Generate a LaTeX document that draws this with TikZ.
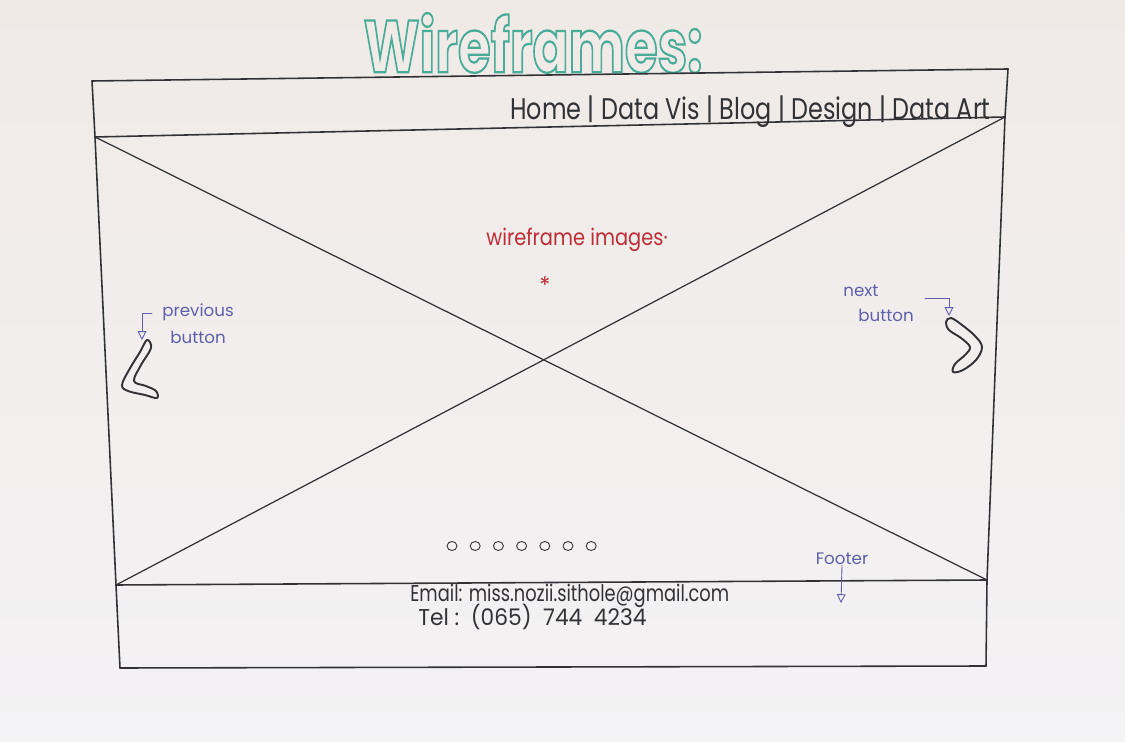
\documentclass[tikz,border=0pt]{standalone}
\usepackage{fontspec}
\setmainfont{Poppins}
\usetikzlibrary{arrows.meta}

\definecolor{paper}{RGB}{243,240,238}
\definecolor{papertop}{RGB}{240,234,231}
\definecolor{paperbot}{RGB}{243,242,244}
\definecolor{ink}{RGB}{50,50,54}
\definecolor{teal}{RGB}{72,172,150}
\definecolor{redink}{RGB}{190,45,55}
\definecolor{blueink}{RGB}{95,95,170}

\newcommand\squeeze[2]{\scalebox{#1}[1]{#2}}
% glyphs stroked only (PDF text render mode 1), for hollow lettering
\newcommand\hollow[1]{\special{pdf:literal direct 1 Tr 1.3 w}#1\special{pdf:literal direct 0 Tr}}

\tikzset{
  pen/.style={draw=ink, line width=0.9pt, line join=round, line cap=round},
  thinpen/.style={draw=blueink, line width=0.5pt, line cap=round},
  navtext/.style={text=ink, font=\fontsize{17}{17}\selectfont, inner sep=0pt},
  contact/.style={text=ink, font=\fontsize{13}{13}\selectfont, inner sep=0pt, anchor=west},
  note/.style={text=blueink, font=\fontsize{9.5}{10}\selectfont, inner sep=0pt, anchor=west},
  rednote/.style={text=redink, font=\fontsize{13}{13}\selectfont, inner sep=0pt},
  dot/.style={draw=ink, line width=0.5pt},
  chevron/.style={draw=ink, line width=1.1pt, line join=round},
  pointer/.style={thinpen, -{Triangle[open, length=5pt, width=5pt]}},
}

\begin{document}
\begin{tikzpicture}[x=0.02cm, y=-0.02cm]
  % sheet of paper
  \shade[top color=papertop, bottom color=paperbot] (0,0) rectangle (1125,742);
  \useasboundingbox (0,0) rectangle (1125,742);

  % heading in hollow bubble letters
  \node[inner sep=0pt, text=teal] (title) at (533,43)
    {\fontsize{42}{42}\selectfont\bfseries\squeeze{0.72}{\hollow{Wireframes:}}};

  % page outline
  \coordinate (tl) at (92,81);
  \coordinate (tr) at (1008,69);
  \coordinate (hl) at (95,137);
  \coordinate (hr) at (1005,117);
  \coordinate (fl) at (116,585);
  \coordinate (fr) at (987,580);
  \coordinate (bl) at (120,668);
  \coordinate (br) at (986,666);

  \draw[pen] (tl) -- (tr);
  \draw[pen] (tl) -- (hl) -- (fl) -- (bl);
  \draw[pen] (tr) -- (hr) -- (fr) -- (br);
  \draw[pen] (bl) -- (br);
  \draw[pen] (hl) -- (hr);
  \draw[pen] (fl) -- (fr);

  % image placeholder cross
  \draw[pen, line width=0.7pt] (hl) -- (fr);
  \draw[pen, line width=0.7pt] (hr) -- (fl);

  % navigation bar
  \node[navtext, anchor=base east] (nav) at (991,120)
    {\squeeze{0.8}{Home | Data Vis | Blog | Design | Data Art}};

  % slide caption
  \node[rednote] (caption) at (577,240) {\squeeze{0.85}{wireframe images·}};
  \node[rednote] (star) at (545,285) {*};

  % previous button
  \node[note] (prevA) at (162,312) {previous};
  \node[note] (prevB) at (170,337) {button};
  \coordinate (prevbar) at (152,313);
  \coordinate (prevtip) at (142,340);
  \draw[pointer] (prevbar) -- (142,313) -- (prevtip);
  \draw[chevron] plot[smooth cycle, tension=0.6] coordinates
    {(147,340) (140,352) (129,370) (122,385) (128,391) (145,395) (157,398)
     (156,391) (146,386) (134,381) (141,365) (151,348)};

  % next button
  \node[note] (nextA) at (843,291) {next};
  \node[note] (nextB) at (858,315) {button};
  \coordinate (nextbar) at (925,298);
  \coordinate (nexttip) at (949,316);
  \draw[pointer] (nextbar) -- (949,298) -- (nexttip);
  \draw[chevron] plot[smooth cycle, tension=0.6] coordinates
    {(946,322) (951,318) (962,325) (975,336) (982,347) (976,360) (963,370)
     (953,372) (955,364) (965,355) (970,347) (961,338) (949,330)};

  % slide indicator dots
  \foreach \i in {0,...,6}
    \draw[dot] (452+23.2*\i,546) ellipse [x radius=5, y radius=4.5];

  % footer label
  \node[note, anchor=center] (footer) at (842,559) {Footer};
  \coordinate (foottip) at (841,603);
  \draw[pointer] (footer.south) -- (foottip);

  % contact details
  \node[contact] (email) at (410,596) {\squeeze{0.78}{Email: miss.nozii.sithole@gmail.com}};
  \node[contact] (tel) at (418,617) {\squeeze{0.95}{Tel :\ \ (065)\ \ 744\ \ 4234}};
\end{tikzpicture}
\end{document}
